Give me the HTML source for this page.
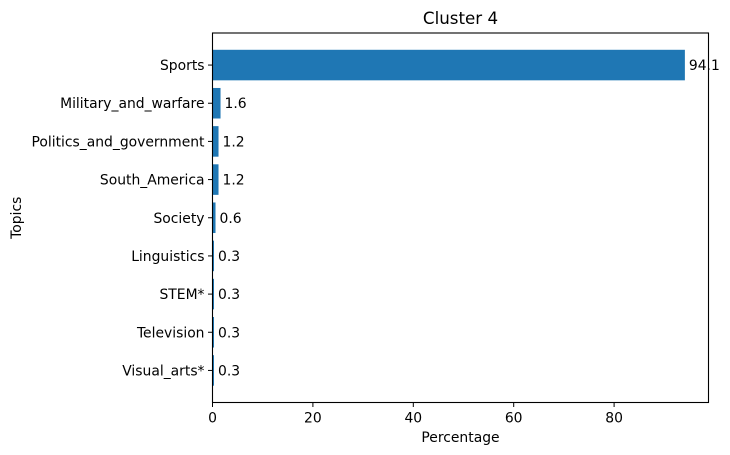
<!DOCTYPE html>
<html><head><meta charset="utf-8"><style>
body{margin:0;background:#fff;}
svg{display:block;font-family:"DejaVu Sans","Liberation Sans",sans-serif;}
</style></head><body>
<svg id="chart" width="730" height="455"></svg>
<script>
const categories = ["Sports","Military_and_warfare","Politics_and_government","South_America","Society","Linguistics","STEM*","Television","Visual_arts*"];
const values = [94.1,1.6,1.2,1.2,0.6,0.3,0.3,0.3,0.3];
const valueLabels = ["94.1","1.6","1.2","1.2","0.6","0.3","0.3","0.3","0.3"];
const xTicks = [0,20,40,60,80];

const NS="http://www.w3.org/2000/svg";
const svg=document.getElementById('chart');
const L=212.5,R=708.5,T=33,B=402.5;
const FS=13.9;
const xMax=Math.max(...values)*1.05;
const n=categories.length;
const span=(n-1+0.8)*1.1;
function x(v){return L+v/xMax*(R-L);}
function y(i){return T+((i+0.4)+(n-1+0.8)*0.05)/span*(B-T);}
const unit=(B-T)/span;
function mk(tag,attrs,parent){const e=document.createElementNS(NS,tag);for(const k in attrs)e.setAttribute(k,attrs[k]);(parent||svg).appendChild(e);return e;}

categories.forEach((c,i)=>{
  const cy=y(i);
  const bar=mk('rect',{x:L,y:cy-0.4*unit,width:x(values[i])-L,height:0.8*unit,fill:'#1f77b4'});
  
  
  const vl=mk('text',{x:x(values[i])+4,y:cy+5,'font-size':FS,fill:'#000'});
  vl.textContent=valueLabels[i];
  
  
  mk('line',{x1:L-4.5,x2:L,y1:cy,y2:cy,stroke:'#000','stroke-width':1});
  const tl=mk('text',{x:L-8,y:cy+5,'font-size':FS,'text-anchor':'end',fill:'#000'});
  tl.textContent=c;
  
  
});
xTicks.forEach(t=>{
  const px=x(t);
  mk('line',{x1:px,x2:px,y1:B,y2:B+4.5,stroke:'#000','stroke-width':1});
  const tl=mk('text',{x:px,y:B+20,'font-size':FS,'text-anchor':'middle',fill:'#000'});
  tl.textContent=t;
  
  
});
const frame=mk('rect',{x:L,y:T,width:R-L,height:B-T,fill:'none',stroke:'#000','stroke-width':1.1});


const title=mk('text',{x:(L+R)/2,y:24,'font-size':16.7,'text-anchor':'middle',fill:'#000'});
title.textContent='Cluster 4';


const xt=mk('text',{x:(L+R)/2,y:442,'font-size':FS,'text-anchor':'middle',fill:'#000'});
xt.textContent='Percentage';


const yt=mk('text',{x:21,y:(T+B)/2,'font-size':FS,'text-anchor':'middle',fill:'#000',transform:'rotate(-90 21 '+((T+B)/2)+')'});
yt.textContent='Topics';


</script>
</body></html>
